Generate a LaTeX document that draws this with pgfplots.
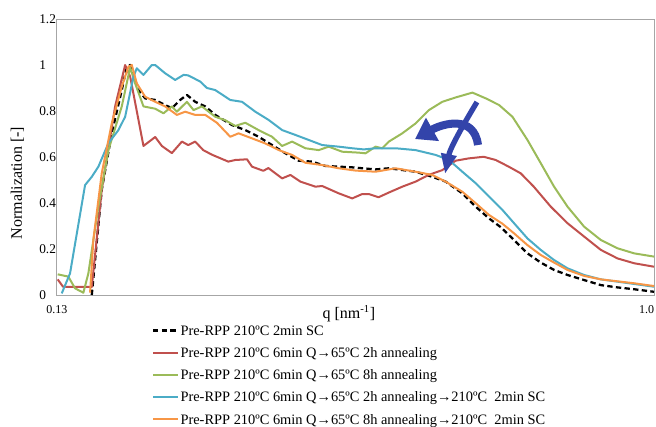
\documentclass[border=0pt]{standalone}
\usepackage{fontspec}
\setmainfont{Liberation Serif}
\usepackage{pgfplots}
\pgfplotsset{compat=1.18}
\usetikzlibrary{arrows.meta}
\definecolor{exred}{HTML}{C0504D}
\definecolor{exgreen}{HTML}{9BBB59}
\definecolor{exblue}{HTML}{4BACC6}
\definecolor{exorange}{HTML}{F79646}
\definecolor{arrowblue}{HTML}{3344AA}
\begin{document}
\begin{tikzpicture}
\begin{axis}[
  scale only axis, width=447.75pt, height=207pt,
  xmin=0.13, xmax=1.0, ymin=0, ymax=1.2,
  xtick={0.13,1.0}, xticklabels={0.13,\llap{1.0}},
  ytick={0,0.2,0.4,0.6,0.8,1,1.2},
  major tick length=0pt,
  axis line style={color=gray!70, line width=0.75pt},
  /pgf/number format/assume math mode=true,
  yticklabel style={anchor=west, xshift=-13.5pt, inner sep=0pt, font=\fontsize{10}{12}\selectfont},
  xticklabel style={anchor=north, inner sep=0pt, yshift=-7.5pt, font=\fontsize{9}{11}\selectfont},
  ylabel={Normalization [-]},
  ylabel style={at={(axis description cs:-0.0662,0.406)}, anchor=center, font=\fontsize{12}{14}\selectfont},
  xlabel={q [nm\textsuperscript{-1}]},
  xlabel style={at={(axis description cs:0.489,-0.068)}, anchor=center, font=\fontsize{12}{14}\selectfont},
  legend cell align=left,
  legend style={draw=none, fill=none, inner sep=0pt, at={(axis description cs:0.1586,-0.097)}, anchor=north west,
    font=\fontsize{10.8}{13}\selectfont, row sep=4pt, nodes={inner sep=1pt}},
  legend image code/.code={\draw[#1] (0pt,0pt) -- (18.75pt,0pt);},
  every axis plot/.append style={line width=1.5pt, line join=round},
]
\addplot[black, dash pattern=on 4pt off 2.5pt, line width=1.7pt] coordinates {
(0.1807,0) (0.1952,0.457) (0.2098,0.703) (0.2244,0.891) (0.2317,0.993) (0.2366,1.0) (0.2487,0.891) (0.2585,0.855) (0.2731,0.848) (0.2876,0.826) (0.2974,0.812) (0.3095,0.848) (0.3193,0.870) (0.3314,0.840) (0.346,0.820) (0.3606,0.783) (0.385,0.739) (0.4044,0.717) (0.4238,0.688) (0.4434,0.652) (0.463,0.616) (0.4822,0.584) (0.5018,0.580) (0.5212,0.561) (0.5406,0.558) (0.5602,0.555) (0.5942,0.546) (0.6136,0.551) (0.6526,0.536) (0.6769,0.514) (0.6964,0.493) (0.7207,0.442) (0.7402,0.384) (0.7596,0.333) (0.7766,0.295) (0.7961,0.239) (0.8156,0.181) (0.835,0.141) (0.8544,0.109) (0.874,0.087) (0.8982,0.065) (0.9226,0.043) (0.9469,0.033) (0.9712,0.025) (1.0,0.014)
};
\addlegendentry{\strut Pre-RPP 210ºC 2min SC}
\addplot[exred] coordinates {
(0.131,0.068) (0.1388,0.036) (0.1807,0.035) (0.1952,0.457) (0.2147,0.82) (0.2293,1.0) (0.2366,0.95) (0.256,0.648) (0.2731,0.687) (0.2828,0.648) (0.2974,0.617) (0.312,0.667) (0.3212,0.652) (0.3314,0.667) (0.3431,0.63) (0.3558,0.61) (0.3796,0.58) (0.3898,0.587) (0.4069,0.59) (0.4142,0.558) (0.4307,0.54) (0.438,0.552) (0.4581,0.507) (0.4701,0.522) (0.4847,0.493) (0.5066,0.471) (0.5164,0.474) (0.5406,0.442) (0.5602,0.42) (0.5748,0.439) (0.5844,0.439) (0.5986,0.425) (0.6132,0.445) (0.6332,0.471) (0.6526,0.493) (0.6715,0.522) (0.6915,0.543) (0.711,0.584) (0.73,0.594) (0.7518,0.601) (0.7694,0.587) (0.7883,0.558) (0.8058,0.529) (0.8248,0.471) (0.8496,0.384) (0.874,0.312) (0.8982,0.254) (0.9226,0.196) (0.9469,0.159) (0.9712,0.138) (1.0,0.123)
};
\addlegendentry{\strut Pre-RPP 210ºC 6min Q→65ºC 2h annealing}
\addplot[exgreen] coordinates {
(0.131,0.09) (0.1465,0.08) (0.1563,0.029) (0.1684,0.01) (0.1757,0.094) (0.1903,0.384) (0.2049,0.63) (0.2244,0.82) (0.2366,0.99) (0.2439,0.92) (0.256,0.82) (0.2731,0.81) (0.2852,0.79) (0.2974,0.82) (0.3047,0.797) (0.3193,0.84) (0.329,0.804) (0.3412,0.82) (0.3606,0.775) (0.3752,0.76) (0.3898,0.735) (0.4044,0.749) (0.4238,0.717) (0.4434,0.688) (0.4581,0.648) (0.4726,0.667) (0.492,0.638) (0.5114,0.63) (0.526,0.645) (0.5456,0.623) (0.5698,0.619) (0.5796,0.616) (0.5942,0.645) (0.604,0.638) (0.6136,0.667) (0.6332,0.703) (0.6526,0.746) (0.672,0.804) (0.6915,0.84) (0.711,0.859) (0.7354,0.88) (0.7548,0.855) (0.7742,0.826) (0.7937,0.775) (0.8156,0.674) (0.835,0.573) (0.8544,0.471) (0.874,0.384) (0.8982,0.297) (0.9226,0.239) (0.9469,0.203) (0.9712,0.181) (1.0,0.167)
};
\addlegendentry{\strut Pre-RPP 210ºC 6min Q→65ºC 8h annealing}
\addplot[exblue] coordinates {
(0.1369,0.007) (0.149,0.094) (0.1709,0.478) (0.1807,0.514) (0.1903,0.558) (0.2049,0.66) (0.2195,0.717) (0.2293,0.775) (0.2414,0.949) (0.2463,0.986) (0.256,0.957) (0.2682,1.0) (0.2731,1.0) (0.2876,0.964) (0.3022,0.935) (0.3144,0.957) (0.3212,0.955) (0.3387,0.928) (0.3485,0.900) (0.3606,0.891) (0.3825,0.848) (0.3996,0.84) (0.419,0.797) (0.4385,0.761) (0.4581,0.717) (0.4774,0.696) (0.4969,0.674) (0.5164,0.652) (0.5406,0.645) (0.5602,0.638) (0.5771,0.633) (0.5942,0.638) (0.6234,0.638) (0.6526,0.63) (0.6818,0.609) (0.7012,0.587) (0.7207,0.536) (0.7402,0.486) (0.7596,0.428) (0.7791,0.37) (0.7961,0.312) (0.8156,0.246) (0.835,0.196) (0.8544,0.152) (0.874,0.116) (0.8982,0.087) (0.9226,0.068) (0.9469,0.058) (0.9712,0.048) (1.0,0.036)
};
\addlegendentry{\strut Pre-RPP 210ºC 6min Q→65ºC 2h annealing→210ºC\ \ 2min SC}
\addplot[exorange] coordinates {
(0.1782,0.01) (0.183,0.24) (0.1952,0.529) (0.2098,0.746) (0.2244,0.906) (0.2341,0.993) (0.239,1.0) (0.2463,0.92) (0.2585,0.862) (0.2731,0.84) (0.2876,0.82) (0.3047,0.783) (0.3168,0.797) (0.3314,0.783) (0.346,0.783) (0.363,0.749) (0.3825,0.688) (0.3946,0.703) (0.4142,0.681) (0.4336,0.659) (0.4532,0.63) (0.4726,0.609) (0.492,0.575) (0.5164,0.565) (0.5406,0.551) (0.565,0.541) (0.5942,0.536) (0.6234,0.551) (0.6526,0.536) (0.6769,0.522) (0.6964,0.493) (0.7207,0.449) (0.7402,0.399) (0.7596,0.348) (0.7791,0.31) (0.7961,0.268) (0.8156,0.217) (0.835,0.174) (0.8544,0.141) (0.874,0.109) (0.8982,0.083) (0.9226,0.068) (0.9712,0.051) (1.0,0.039)
};
\addlegendentry{\strut Pre-RPP 210ºC 6min Q→65ºC 8h annealing→210ºC\ \ 2min SC}
\draw[color=arrowblue, line width=6pt, -{Triangle[width=19pt,length=15pt]}] (axis cs:0.7435,0.6522) .. controls (axis cs:0.7377,0.787) and (axis cs:0.6911,0.7435) .. (axis cs:0.6517,0.678);
\draw[color=arrowblue, line width=4pt, -{Triangle[width=11pt,length=15pt]}] (axis cs:0.742,0.839) .. controls (axis cs:0.722,0.74) and (axis cs:0.703,0.64) .. (axis cs:0.6954,0.526);
\coordinate (sw) at (rel axis cs:0,0);
\end{axis}
\pgfresetboundingbox
\useasboundingbox ([shift={(-42.75pt,-98.25pt)}]sw) rectangle ++(492pt,319.5pt);
\end{tikzpicture}
\end{document}
